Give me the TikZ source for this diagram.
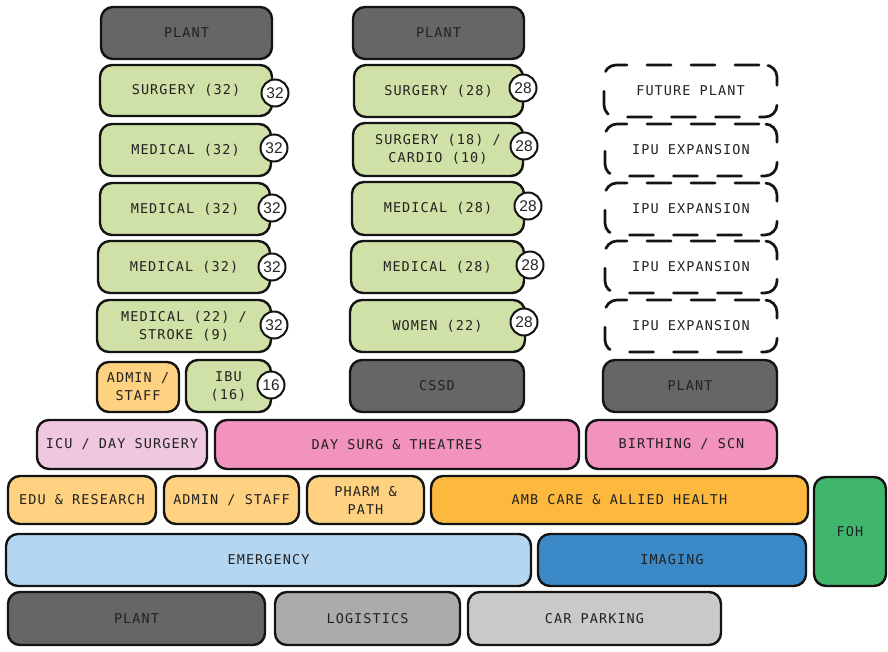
\documentclass[tikz,border=0pt]{standalone}
\usepackage{fontspec}
\newfontfamily\boxfont[LetterSpace=8]{DejaVu Sans Mono}
\newfontfamily\badgefont{Liberation Sans}
\definecolor{txt}{HTML}{222222}
\definecolor{cDark}{HTML}{666666}
\definecolor{cMid}{HTML}{ABABAB}
\definecolor{cLight}{HTML}{C9C9C9}
\definecolor{cGreen}{HTML}{CFE1A6}
\definecolor{cLOrange}{HTML}{FED280}
\definecolor{cOrange}{HTML}{FDB93E}
\definecolor{cLPink}{HTML}{EFC8E0}
\definecolor{cPink}{HTML}{F293BD}
\definecolor{cLBlue}{HTML}{B5D6F0}
\definecolor{cBlue}{HTML}{3B89C7}
\definecolor{cFoh}{HTML}{40B56C}
\tikzset{
  bx/.style={draw=black!92, line width=2.4pt, rounded corners=12pt, inner sep=0pt,
    align=center, text=txt, font={\boxfont\fontsize{13.5}{18}\selectfont}},
  dbx/.style={bx, fill=white, dash pattern=on 24pt off 20pt, dash phase=-6pt, line cap=round, line width=2.7pt},
  badge/.style={circle, draw=black!92, fill=white, line width=2pt, minimum size=27pt,
    inner sep=0pt, text=black!85, font={\badgefont\fontsize{15.5}{15.5}\selectfont}}
}
% #1 style, #2 name, #3 x1, #4 y1, #5 x2, #6 y2, #7 text
\newcommand\blk[7]{\node[bx,#1,minimum width={#5-#3},minimum height={#6-#4}] (#2) at ({(#3+#5)/2},{(#4+#6)/2}) {#7};}
\begin{document}
\begin{tikzpicture}[x=1pt,y=-1pt]
\useasboundingbox (0,0) rectangle (888,651);
% column A
\blk{fill=cDark}{plantA}{101}{7}{272}{59}{PLANT}
\blk{fill=cGreen}{surgA}{100}{65}{272}{116}{SURGERY (32)}
\blk{fill=cGreen}{medA1}{100}{124}{271}{176}{MEDICAL (32)}
\blk{fill=cGreen}{medA2}{100}{183}{270}{235}{MEDICAL (32)}
\blk{fill=cGreen}{medA3}{98}{241}{270}{293}{MEDICAL (32)}
\blk{fill=cGreen}{strokeA}{97}{300}{271}{352}{MEDICAL (22) /\\STROKE (9)}
\blk{fill=cLOrange}{adminA}{97}{362}{179}{412}{ADMIN /\\STAFF}
\blk{fill=cGreen}{ibu}{186}{360}{271}{412}{IBU\\(16)}
\node[badge] (bA1) at (275,93) {32};
\node[badge] (bA2) at (274,148) {32};
\node[badge] (bA3) at (272,208) {32};
\node[badge] (bA4) at (272,267) {32};
\node[badge] (bA5) at (274,325) {32};
\node[badge] (bA6) at (271,385) {16};
% column B
\blk{fill=cDark}{plantB}{353}{7}{524}{59}{PLANT}
\blk{fill=cGreen}{surgB}{354}{65}{523}{117}{SURGERY (28)}
\blk{fill=cGreen}{cardioB}{353}{123}{523}{176}{SURGERY (18) /\\CARDIO (10)}
\blk{fill=cGreen}{medB1}{352}{182}{524}{235}{MEDICAL (28)}
\blk{fill=cGreen}{medB2}{351}{241}{524}{293}{MEDICAL (28)}
\blk{fill=cGreen}{women}{350}{300}{525}{352}{WOMEN (22)}
\blk{fill=cDark}{cssd}{350}{360}{524}{412}{CSSD}
\node[badge] (bB1) at (523,88) {28};
\node[badge] (bB2) at (524,146) {28};
\node[badge] (bB3) at (528,206) {28};
\node[badge] (bB4) at (530,265) {28};
\node[badge] (bB5) at (524,322) {28};
% column C
\blk{dbx}{future}{604}{65}{777}{117}{FUTURE PLANT}
\blk{dbx}{ipu1}{605}{124}{777}{176}{IPU EXPANSION}
\blk{dbx}{ipu2}{605}{183}{777}{235}{IPU EXPANSION}
\blk{dbx}{ipu3}{605}{241}{777}{293}{IPU EXPANSION}
\blk{dbx}{ipu4}{605}{300}{777}{352}{IPU EXPANSION}
\blk{fill=cDark}{plantC}{603}{360}{777}{412}{PLANT}
% podium rows
\blk{fill=cLPink}{icu}{37}{420}{207}{469}{ICU / DAY SURGERY}
\blk{fill=cPink}{theatres}{215}{420}{579}{469}{DAY SURG \& THEATRES}
\blk{fill=cPink}{birthing}{586}{420}{777}{469}{BIRTHING / SCN}
\blk{fill=cLOrange}{edu}{8}{476}{156}{524}{EDU \& RESEARCH}
\blk{fill=cLOrange}{adminB}{164}{476}{299}{524}{ADMIN / STAFF}
\blk{fill=cLOrange}{pharm}{307}{476}{424}{524}{PHARM \&\\PATH}
\blk{fill=cOrange}{amb}{431}{476}{808}{524}{AMB CARE \& ALLIED HEALTH}
\blk{fill=cFoh}{foh}{814}{477}{886}{586}{FOH}
\blk{fill=cLBlue}{emerg}{6}{534}{531}{586}{EMERGENCY}
\blk{fill=cBlue}{imaging}{538}{534}{806}{586}{IMAGING}
\blk{fill=cDark}{plantD}{8}{592}{265}{645}{PLANT}
\blk{fill=cMid}{logistics}{275}{592}{460}{645}{LOGISTICS}
\blk{fill=cLight}{parking}{468}{592}{721}{645}{CAR PARKING}
\end{tikzpicture}
\end{document}
